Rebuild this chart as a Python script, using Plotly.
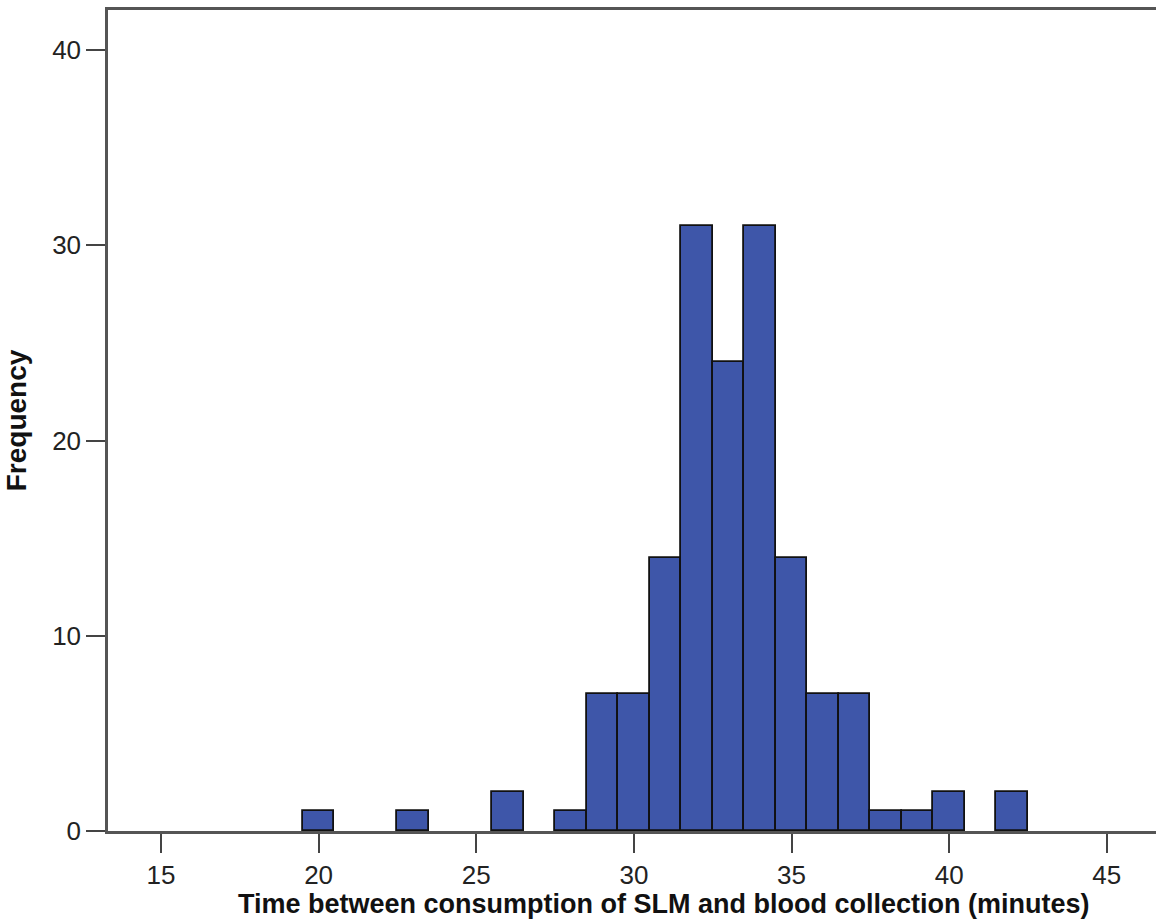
import plotly.graph_objects as go

# Histogram bins (centered on whole minutes) and their frequencies
minutes = [20, 23, 26, 28, 29, 30, 31, 32, 33, 34, 35, 36, 37, 38, 39, 40, 42]
frequency = [1, 1, 2, 1, 7, 7, 14, 31, 24, 31, 14, 7, 7, 1, 1, 2, 2]

x_ticks = [15, 20, 25, 30, 35, 40, 45]
y_ticks = [0, 10, 20, 30, 40]

fig = go.Figure(
    go.Bar(
        x=minutes,
        y=frequency,
        width=1,
        marker=dict(color="#3E56A9", line=dict(color="#111111", width=1.8)),
        hoverinfo="x+y",
    )
)

axis_font = dict(family="Liberation Sans", size=26, color="#222222")

fig.update_layout(
    width=1156,
    height=924,
    margin=dict(l=108, r=0, t=10, b=93),
    paper_bgcolor="white",
    plot_bgcolor="white",
    showlegend=False,
    bargap=0,
    xaxis=dict(
        range=[13.32, 46.56],
        tickvals=x_ticks,
        ticktext=[str(v) for v in x_ticks],
        ticks="outside",
        ticklen=19,
        tickwidth=2,
        tickcolor="#444444",
        showline=True,
        linecolor="#555555",
        linewidth=2.5,
        mirror=True,
        showgrid=False,
        zeroline=False,
        tickfont=axis_font,
    ),
    yaxis=dict(
        range=[0, 42.05],
        tickvals=y_ticks,
        ticks="outside",
        ticklen=19,
        tickwidth=2,
        tickcolor="#444444",
        showline=True,
        linecolor="#555555",
        linewidth=2.5,
        showgrid=False,
        zeroline=False,
        tickfont=axis_font,
        title=dict(
            text="<b>Frequency</b>",
            font=dict(family="Liberation Sans", size=28, color="#111111"),
            standoff=18,
        ),
    ),
    annotations=[
        dict(
            text="<b>Time between consumption of SLM and blood collection (minutes)</b>",
            xref="paper",
            yref="paper",
            x=0.5305,
            y=0,
            yshift=-56,
            xanchor="center",
            yanchor="top",
            showarrow=False,
            font=dict(family="Liberation Sans", size=27, color="#111111"),
        )
    ],
)

fig.write_html("out.html")
